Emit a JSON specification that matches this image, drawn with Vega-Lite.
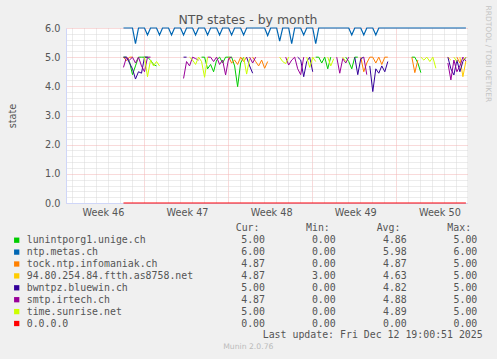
{
"$schema":"https://vega.github.io/schema/vega-lite/v6.json",
"width":401,"height":175,
"autosize":{"type":"none"},
"padding":{"left":66,"top":28,"right":30,"bottom":156},
"background":"#f0f0f0",
"config":{"view":{"fill":"#ffffff","stroke":null},"font":"DejaVu Sans","axis":{"labelFont":"DejaVu Sans","titleFont":"DejaVu Sans","zindex":0}},
"datasets":{
"lines":[
{"t":"2025-11-14T07:00:00Z","g":5,"o":5,"i":5,"p":4.65},
{"t":"2025-11-14T13:00:00Z","g":5,"o":4.88,"i":5,"p":5},
{"t":"2025-11-14T19:00:00Z","g":4.85,"o":5,"i":4.8,"p":4.9},
{"t":"2025-11-15T01:00:00Z","g":4.4,"o":5,"i":4.6,"p":5},
{"t":"2025-11-15T07:00:00Z","g":4.7,"i":4.25,"p":4.8},
{"t":"2025-11-15T13:00:00Z","g":5,"i":4.5,"p":5},
{"t":"2025-11-15T19:00:00Z","g":5,"i":4.45,"p":4.7},
{"t":"2025-11-16T01:00:00Z","g":5,"i":5,"p":4.5,"l":5},
{"t":"2025-11-16T07:00:00Z","g":5,"i":5,"p":5,"l":4.33},
{"t":"2025-11-16T13:00:00Z","g":4.9,"p":5,"l":4.9},
{"t":"2025-11-16T19:00:00Z","g":4.75,"l":4.7},
{"t":"2025-11-17T01:00:00Z","g":4.7,"l":4.85},
{"t":"2025-11-17T07:00:00Z","l":4.7},
{"t":"2025-11-18T07:00:00Z"},
{"t":"2025-11-19T07:00:00Z","p":4.27,"i":5},
{"t":"2025-11-19T13:00:00Z","p":4.85,"i":5},
{"t":"2025-11-19T19:00:00Z","p":4.7,"l":5},
{"t":"2025-11-20T01:00:00Z","p":5,"l":4.9},
{"t":"2025-11-20T07:00:00Z","p":4.95,"l":4.75},
{"t":"2025-11-20T13:00:00Z","p":4.9,"l":5},
{"t":"2025-11-20T19:00:00Z","g":5,"l":4.85},
{"t":"2025-11-21T01:00:00Z","g":5,"l":4.31},
{"t":"2025-11-21T07:00:00Z","g":4.6,"p":5,"l":5},
{"t":"2025-11-21T13:00:00Z","g":4.75,"p":5},
{"t":"2025-11-21T19:00:00Z","g":4.5,"p":4.85},
{"t":"2025-11-22T01:00:00Z","g":4.9,"p":5},
{"t":"2025-11-22T07:00:00Z","g":5,"p":4.75},
{"t":"2025-11-22T13:00:00Z","g":4.8,"p":4.9},
{"t":"2025-11-22T19:00:00Z","g":5,"p":4.39},
{"t":"2025-11-23T01:00:00Z","g":5,"o":5,"p":4.95},
{"t":"2025-11-23T07:00:00Z","g":5,"o":4.8,"p":5},
{"t":"2025-11-23T13:00:00Z","g":4.7,"o":4.9},
{"t":"2025-11-23T19:00:00Z","g":3.99,"o":4.75},
{"t":"2025-11-24T01:00:00Z","g":4.8,"o":5},
{"t":"2025-11-24T07:00:00Z","g":5,"o":4.85,"l":5},
{"t":"2025-11-24T13:00:00Z","o":5,"i":5,"l":4.42},
{"t":"2025-11-24T19:00:00Z","i":4.7,"p":5,"l":4.95},
{"t":"2025-11-25T01:00:00Z","o":5,"i":4.45,"p":4.8},
{"t":"2025-11-25T07:00:00Z","o":4.85,"p":5},
{"t":"2025-11-25T13:00:00Z","o":4.7,"i":5},
{"t":"2025-11-25T19:00:00Z","o":4.9},
{"t":"2025-11-26T01:00:00Z","o":4.62},
{"t":"2025-11-26T07:00:00Z","o":4.85},
{"t":"2025-11-26T19:00:00Z"},
{"t":"2025-11-27T07:00:00Z","l":5},
{"t":"2025-11-27T13:00:00Z","l":4.85},
{"t":"2025-11-27T19:00:00Z","l":4.78,"p":5},
{"t":"2025-11-28T01:00:00Z","l":5,"p":4.73},
{"t":"2025-11-28T07:00:00Z","p":4.9},
{"t":"2025-11-28T13:00:00Z","p":5},
{"t":"2025-11-28T19:00:00Z","p":4.6,"i":5},
{"t":"2025-11-29T01:00:00Z","p":4.4,"i":4.9},
{"t":"2025-11-29T07:00:00Z","p":5,"i":4.33},
{"t":"2025-11-29T13:00:00Z","i":4.85,"l":5},
{"t":"2025-11-29T19:00:00Z","i":5,"l":4.65},
{"t":"2025-11-30T01:00:00Z","i":4.5,"l":5},
{"t":"2025-11-30T07:00:00Z","g":5,"l":4.85},
{"t":"2025-11-30T13:00:00Z","g":5},
{"t":"2025-11-30T19:00:00Z","g":4.8},
{"t":"2025-12-01T01:00:00Z","g":5},
{"t":"2025-12-01T07:00:00Z","g":4.6,"l":5},
{"t":"2025-12-01T13:00:00Z","g":5,"l":4.7},
{"t":"2025-12-01T19:00:00Z","l":4.95},
{"t":"2025-12-02T01:00:00Z","p":5},
{"t":"2025-12-02T07:00:00Z","p":4.45},
{"t":"2025-12-02T13:00:00Z","p":4.95,"l":5},
{"t":"2025-12-02T19:00:00Z","g":5,"p":4.8,"l":4.85},
{"t":"2025-12-03T01:00:00Z","g":4.85,"p":5},
{"t":"2025-12-03T07:00:00Z","g":4.6,"l":4.9},
{"t":"2025-12-03T13:00:00Z","g":5,"i":5},
{"t":"2025-12-03T19:00:00Z","g":5,"i":4.4},
{"t":"2025-12-04T01:00:00Z","o":5,"i":4.95},
{"t":"2025-12-04T07:00:00Z","o":4.5,"i":5,"p":5},
{"t":"2025-12-04T13:00:00Z","o":4.8,"p":4.4},
{"t":"2025-12-04T19:00:00Z","o":5,"i":4.7},
{"t":"2025-12-05T01:00:00Z","o":5,"i":3.82},
{"t":"2025-12-05T07:00:00Z","o":4.8,"i":4.6},
{"t":"2025-12-05T13:00:00Z","o":5,"i":4.45},
{"t":"2025-12-05T19:00:00Z","o":4.75,"i":4.7},
{"t":"2025-12-06T01:00:00Z","o":5,"i":4.5},
{"t":"2025-12-06T07:00:00Z","o":5,"i":4.85},
{"t":"2025-12-07T07:00:00Z"},
{"t":"2025-12-08T07:00:00Z","o":5,"g":5},
{"t":"2025-12-08T13:00:00Z","o":4.47,"g":5},
{"t":"2025-12-08T19:00:00Z","o":4.9,"g":4.8},
{"t":"2025-12-09T01:00:00Z","g":4.47,"l":5},
{"t":"2025-12-09T07:00:00Z","l":4.9},
{"t":"2025-12-09T13:00:00Z","l":5},
{"t":"2025-12-09T19:00:00Z","l":4.85},
{"t":"2025-12-10T01:00:00Z","l":5},
{"t":"2025-12-10T07:00:00Z","l":4.62},
{"t":"2025-12-10T19:00:00Z"},
{"t":"2025-12-11T07:00:00Z","p":4.8,"i":5,"y":5},
{"t":"2025-12-11T13:00:00Z","p":4.22,"i":4.6,"y":4.9},
{"t":"2025-12-11T19:00:00Z","p":4.9,"i":4.39,"l":5},
{"t":"2025-12-12T01:00:00Z","p":4.5,"i":4.9,"o":5,"l":4.85},
{"t":"2025-12-12T07:00:00Z","p":4.7,"i":4.5,"y":5,"o":4.8},
{"t":"2025-12-12T13:00:00Z","y":4.33,"p":5,"i":4.85,"l":4.9},
{"t":"2025-12-12T19:00:00Z","y":4.87,"p":4.87,"o":4.87,"i":5,"l":5}
],
"fixed":[
{"key":"b","t":"2025-11-14T07:00:00Z","v":6},
{"key":"b","t":"2025-11-15T01:00:00Z","v":6},{"key":"b","t":"2025-11-15T07:00:00Z","v":5.46},{"key":"b","t":"2025-11-15T13:00:00Z","v":6},
{"key":"b","t":"2025-11-16T01:00:00Z","v":6},{"key":"b","t":"2025-11-16T07:00:00Z","v":5.76},{"key":"b","t":"2025-11-16T13:00:00Z","v":6},
{"key":"b","t":"2025-11-17T01:00:00Z","v":6},{"key":"b","t":"2025-11-17T07:00:00Z","v":5.76},{"key":"b","t":"2025-11-17T13:00:00Z","v":6},
{"key":"b","t":"2025-11-18T01:00:00Z","v":6},{"key":"b","t":"2025-11-18T07:00:00Z","v":5.76},{"key":"b","t":"2025-11-18T13:00:00Z","v":6},
{"key":"b","t":"2025-11-19T01:00:00Z","v":6},{"key":"b","t":"2025-11-19T07:00:00Z","v":5.76},{"key":"b","t":"2025-11-19T13:00:00Z","v":6},
{"key":"b","t":"2025-11-20T01:00:00Z","v":6},{"key":"b","t":"2025-11-20T07:00:00Z","v":5.76},{"key":"b","t":"2025-11-20T13:00:00Z","v":6},
{"key":"b","t":"2025-11-21T01:00:00Z","v":6},{"key":"b","t":"2025-11-21T07:00:00Z","v":5.76},{"key":"b","t":"2025-11-21T13:00:00Z","v":6},
{"key":"b","t":"2025-11-22T01:00:00Z","v":6},{"key":"b","t":"2025-11-22T07:00:00Z","v":5.76},{"key":"b","t":"2025-11-22T13:00:00Z","v":6},
{"key":"b","t":"2025-11-23T01:00:00Z","v":6},{"key":"b","t":"2025-11-23T07:00:00Z","v":5.76},{"key":"b","t":"2025-11-23T13:00:00Z","v":6},
{"key":"b","t":"2025-11-24T01:00:00Z","v":6},{"key":"b","t":"2025-11-24T07:00:00Z","v":5.76},{"key":"b","t":"2025-11-24T13:00:00Z","v":6},
{"key":"b","t":"2025-11-26T01:00:00Z","v":6},{"key":"b","t":"2025-11-26T07:00:00Z","v":5.74},{"key":"b","t":"2025-11-26T13:00:00Z","v":6},
{"key":"b","t":"2025-11-27T01:00:00Z","v":6},{"key":"b","t":"2025-11-27T07:00:00Z","v":5.55},{"key":"b","t":"2025-11-27T13:00:00Z","v":6},
{"key":"b","t":"2025-11-28T01:00:00Z","v":6},{"key":"b","t":"2025-11-28T07:00:00Z","v":5.46},{"key":"b","t":"2025-11-28T13:00:00Z","v":6},
{"key":"b","t":"2025-11-29T01:00:00Z","v":6},{"key":"b","t":"2025-11-29T07:00:00Z","v":5.76},{"key":"b","t":"2025-11-29T13:00:00Z","v":6},
{"key":"b","t":"2025-11-30T01:00:00Z","v":6},{"key":"b","t":"2025-11-30T07:00:00Z","v":5.46},{"key":"b","t":"2025-11-30T13:00:00Z","v":6},
{"key":"b","t":"2025-12-03T01:00:00Z","v":6},{"key":"b","t":"2025-12-03T07:00:00Z","v":5.76},{"key":"b","t":"2025-12-03T13:00:00Z","v":6},
{"key":"b","t":"2025-12-04T01:00:00Z","v":6},{"key":"b","t":"2025-12-04T07:00:00Z","v":5.76},{"key":"b","t":"2025-12-04T13:00:00Z","v":6},
{"key":"b","t":"2025-12-05T01:00:00Z","v":6},{"key":"b","t":"2025-12-05T07:00:00Z","v":5.76},{"key":"b","t":"2025-12-05T13:00:00Z","v":6},
{"key":"b","t":"2025-12-12T19:00:00Z","v":6},
{"key":"r","t":"2025-11-14T07:00:00Z","v":0},
{"key":"r","t":"2025-12-12T19:00:00Z","v":0}
],
"legend":[
{"row":1,"key":"g","name":"lunintporg1.unige.ch","cur":5,"min":0,"avg":4.86,"max":5},
{"row":2,"key":"b","name":"ntp.metas.ch","cur":6,"min":0,"avg":5.98,"max":6},
{"row":3,"key":"o","name":"tock.ntp.infomaniak.ch","cur":4.87,"min":0,"avg":4.87,"max":5},
{"row":4,"key":"y","name":"94.80.254.84.ftth.as8758.net","cur":4.87,"min":3,"avg":4.63,"max":5},
{"row":5,"key":"i","name":"bwntpz.bluewin.ch","cur":5,"min":0,"avg":4.82,"max":5},
{"row":6,"key":"p","name":"smtp.irtech.ch","cur":4.87,"min":0,"avg":4.88,"max":5},
{"row":7,"key":"l","name":"time.sunrise.net","cur":5,"min":0,"avg":4.89,"max":5},
{"row":8,"key":"r","name":"0.0.0.0","cur":0,"min":0,"avg":0,"max":0}
]
},
"layer":[
{
"layer":[
{"data":{"name":"lines"},"mark":{"type":"line","color":"#00cc00","strokeWidth":1,"invalid":"break-paths-filter-domains"},
 "encoding":{
  "x":{"field":"t","type":"temporal","scale":{"type":"utc","domain":[1762690260000,1765573860000]},
   "axis":{"orient":"bottom","values":[1762948800000,1763553600000,1764158400000,1764763200000,1765368000000],"labelExpr":"'Week ' + utcFormat(datum.value, '%V')","grid":false,"ticks":false,"domain":true,"domainColor":"#cfd6f8","domainWidth":1,"labelFontSize":9.7,"labelColor":"#555555","labelPadding":12.5,"labelBaseline":"alphabetic","labelAlign":"center","labelOffset":1,"labelFlush":false,"labelOverlap":false,"title":null}},
  "y":{"field":"g","type":"quantitative","scale":{"domain":[0,6],"nice":false,"zero":false},
   "axis":{"orient":"left","values":[0,1,2,3,4,5,6],"format":".1f","grid":true,"gridColor":"#f2b4b4","gridDash":[1,1],"gridWidth":1,"ticks":false,"domain":true,"domainColor":"#cfd6f8","labelFontSize":9.7,"labelColor":"#555555","labelPadding":6,"title":"state","titleFontSize":9.7,"titleFontWeight":"normal","titleColor":"#555555","titleX":-51,"titleY":87.5,"titleAngle":270,"titleBaseline":"alphabetic","titleAlign":"center"}}
 }},
{"data":{"name":"fixed"},"transform":[{"filter":"datum.key === 'b'"}],"mark":{"type":"line","color":"#0066b3","strokeWidth":1.2},
 "encoding":{
  "x":{"field":"t","type":"temporal","axis":{"orient":"top","values":[1762732800000,1762819200000,1762905600000,1762992000000,1763078400000,1763164800000,1763337600000,1763424000000,1763510400000,1763596800000,1763683200000,1763769600000,1763942400000,1764028800000,1764115200000,1764201600000,1764288000000,1764374400000,1764547200000,1764633600000,1764720000000,1764806400000,1764892800000,1764979200000,1765152000000,1765238400000,1765324800000,1765411200000,1765497600000],"grid":true,"gridColor":"#d8d8d8","gridDash":[1,1],"labels":false,"ticks":false,"domain":false,"title":null,"minExtent":0,"maxExtent":0}},
  "y":{"field":"v","type":"quantitative","axis":{"orient":"right","values":[0.2,0.4,0.6,0.8,1.2,1.4,1.6,1.8,2.2,2.4,2.6,2.8,3.2,3.4,3.6,3.8,4.2,4.4,4.6,4.8,5.2,5.4,5.6,5.8],"grid":true,"gridColor":"#d8d8d8","gridDash":[1,1],"labels":false,"ticks":false,"domain":false,"title":"RRDTOOL / TOBI OETIKER","titleAngle":90,"titleAlign":"left","titleBaseline":"middle","titleX":20.5,"titleY":-23,"titleFontSize":7.5,"titleFontWeight":"normal","titleColor":"#c4c4c4","minExtent":0,"maxExtent":0}}
 }},
{"data":{"name":"lines"},"mark":{"type":"line","color":"#ff8000","strokeWidth":1,"invalid":"break-paths-filter-domains"},
 "encoding":{
  "x":{"field":"t","type":"temporal","axis":{"orient":"top","values":[1763251200000,1763856000000,1764460800000,1765065600000],"grid":true,"gridColor":"#f2b4b4","gridDash":[1,1],"labels":false,"ticks":false,"domain":false,"title":"NTP states - by month","titleX":181.5,"titleY":-5,"titleAlign":"center","titleBaseline":"alphabetic","titleFontSize":12.5,"titleFontWeight":"normal","titleColor":"#555555","titleAngle":0,"minExtent":0,"maxExtent":0}},
  "y":{"field":"o","type":"quantitative","axis":null}
 }},
{"data":{"name":"lines"},"mark":{"type":"line","color":"#ffcc00","strokeWidth":1,"invalid":"break-paths-filter-domains"},
 "encoding":{"x":{"field":"t","type":"temporal","axis":null},"y":{"field":"y","type":"quantitative","axis":null}}},
{"data":{"name":"lines"},"mark":{"type":"line","color":"#330099","strokeWidth":1,"invalid":"break-paths-filter-domains"},
 "encoding":{"x":{"field":"t","type":"temporal","axis":null},"y":{"field":"i","type":"quantitative","axis":null}}},
{"data":{"name":"lines"},"mark":{"type":"line","color":"#990099","strokeWidth":1,"invalid":"break-paths-filter-domains"},
 "encoding":{"x":{"field":"t","type":"temporal","axis":null},"y":{"field":"p","type":"quantitative","axis":null}}},
{"data":{"name":"lines"},"mark":{"type":"line","color":"#ccff00","strokeWidth":1,"invalid":"break-paths-filter-domains"},
 "encoding":{"x":{"field":"t","type":"temporal","axis":null},"y":{"field":"l","type":"quantitative","axis":null}}},
{"data":{"name":"fixed"},"transform":[{"filter":"datum.key === 'r'"}],"mark":{"type":"line","color":"#ff0000","strokeWidth":1},
 "encoding":{"x":{"field":"t","type":"temporal","axis":null},"y":{"field":"v","type":"quantitative","axis":null}}}
],
"resolve":{"axis":{"x":"independent","y":"independent"}}
},
{
"layer":[
{"data":{"name":"legend"},"mark":{"type":"square","size":28,"opacity":1,"filled":true},
 "encoding":{
  "x":{"datum":-1.68,"type":"quantitative","scale":{"domain":[0,80],"range":[-39.3,436.7],"nice":false,"zero":false},"axis":null},
  "y":{"field":"row","type":"quantitative","scale":{"domain":[0,10],"range":[200.3,319.3],"nice":false,"zero":false},"axis":null},
  "color":{"field":"key","type":"nominal","scale":{"domain":["g","b","o","y","i","p","l","r"],"range":["#00cc00","#0066b3","#ff8000","#ffcc00","#330099","#990099","#ccff00","#ff0000"]},"legend":null}
 }},
{"data":{"name":"legend"},"mark":{"type":"text","align":"left","baseline":"middle","font":"DejaVu Sans Mono","fontSize":9.9,"color":"#555555"},
 "encoding":{"x":{"datum":0,"type":"quantitative","axis":null},"y":{"field":"row","type":"quantitative","axis":null},"text":{"field":"name"}}},
{"data":{"name":"legend"},"mark":{"type":"text","align":"right","baseline":"middle","font":"DejaVu Sans Mono","fontSize":9.9,"color":"#555555"},
 "encoding":{"x":{"datum":40.05,"type":"quantitative","axis":null},"y":{"field":"row","type":"quantitative","axis":null},"text":{"field":"cur","format":".2f"}}},
{"data":{"name":"legend"},"mark":{"type":"text","align":"right","baseline":"middle","font":"DejaVu Sans Mono","fontSize":9.9,"color":"#555555"},
 "encoding":{"x":{"datum":51.93,"type":"quantitative","axis":null},"y":{"field":"row","type":"quantitative","axis":null},"text":{"field":"min","format":".2f"}}},
{"data":{"name":"legend"},"mark":{"type":"text","align":"right","baseline":"middle","font":"DejaVu Sans Mono","fontSize":9.9,"color":"#555555"},
 "encoding":{"x":{"datum":63.87,"type":"quantitative","axis":null},"y":{"field":"row","type":"quantitative","axis":null},"text":{"field":"avg","format":".2f"}}},
{"data":{"name":"legend"},"mark":{"type":"text","align":"right","baseline":"middle","font":"DejaVu Sans Mono","fontSize":9.9,"color":"#555555"},
 "encoding":{"x":{"datum":75.73,"type":"quantitative","axis":null},"y":{"field":"row","type":"quantitative","axis":null},"text":{"field":"max","format":".2f"}}},
{"data":{"values":[{"row":0,"txt":"Cur:"}]},"mark":{"type":"text","align":"left","baseline":"middle","font":"DejaVu Sans Mono","fontSize":9.9,"color":"#555555"},
 "encoding":{"x":{"datum":35.13,"type":"quantitative","axis":null},"y":{"field":"row","type":"quantitative","axis":null},"text":{"field":"txt"}}},
{"data":{"values":[{"row":0,"txt":"Min:"}]},"mark":{"type":"text","align":"left","baseline":"middle","font":"DejaVu Sans Mono","fontSize":9.9,"color":"#555555"},
 "encoding":{"x":{"datum":46.94,"type":"quantitative","axis":null},"y":{"field":"row","type":"quantitative","axis":null},"text":{"field":"txt"}}},
{"data":{"values":[{"row":0,"txt":"Avg:"}]},"mark":{"type":"text","align":"left","baseline":"middle","font":"DejaVu Sans Mono","fontSize":9.9,"color":"#555555"},
 "encoding":{"x":{"datum":58.82,"type":"quantitative","axis":null},"y":{"field":"row","type":"quantitative","axis":null},"text":{"field":"txt"}}},
{"data":{"values":[{"row":0,"txt":"Max:"}]},"mark":{"type":"text","align":"left","baseline":"middle","font":"DejaVu Sans Mono","fontSize":9.9,"color":"#555555"},
 "encoding":{"x":{"datum":70.69,"type":"quantitative","axis":null},"y":{"field":"row","type":"quantitative","axis":null},"text":{"field":"txt"}}},
{"data":{"values":[{"row":9,"txt":"Last update: Fri Dec 12 19:00:51 2025"}]},"mark":{"type":"text","align":"right","baseline":"middle","font":"DejaVu Sans Mono","fontSize":9.9,"color":"#555555"},
 "encoding":{"x":{"datum":76.64,"type":"quantitative","axis":null},"y":{"field":"row","type":"quantitative","axis":null},"text":{"field":"txt"}}},
{"data":{"values":[{"row":10,"txt":"Munin 2.0.76"}]},"mark":{"type":"text","align":"center","baseline":"middle","font":"DejaVu Sans","fontSize":7.7,"color":"#bbbbbb"},
 "encoding":{"x":{"datum":37.24,"type":"quantitative","axis":null},"y":{"field":"row","type":"quantitative","axis":null},"text":{"field":"txt"}}}
]
}
],
"resolve":{"scale":{"x":"independent","y":"independent"},"axis":{"x":"independent","y":"independent"}}
}
